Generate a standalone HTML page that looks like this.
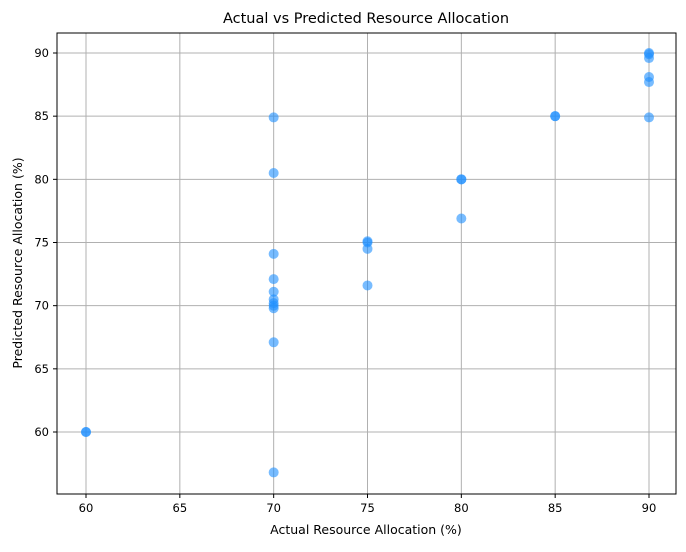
<!DOCTYPE html>
<html><head><meta charset="utf-8"><style>
body{margin:0;background:#fff;font-family:"Liberation Sans","DejaVu Sans",sans-serif}
svg text{font-family:"DejaVu Sans","Liberation Sans",sans-serif;fill:#000}
</style></head><body>
<svg id="chart" width="686" height="547" xmlns="http://www.w3.org/2000/svg">
<rect width="686" height="547" fill="#fff"/>
<text x="366" y="23" text-anchor="middle" font-size="14.5">Actual vs Predicted Resource Allocation</text>
<g id="grid"></g>
<g id="pts"></g>
<rect x="57" y="33" width="619" height="461" fill="none" stroke="#000" stroke-width="1"/>
<g id="ticks"></g>
<text x="366" y="534" text-anchor="middle" font-size="12.5">Actual Resource Allocation (%)</text>
<text transform="translate(22,263) rotate(-90)" text-anchor="middle" font-size="12.5">Predicted Resource Allocation (%)</text>
</svg>
<script>
const xTicks=[60,65,70,75,80,85,90];
const yTicks=[60,65,70,75,80,85,90];
const actual=[60,60,70,70,70,70,70,70,70,70,70,70,70,75,75,75,75,80,80,80,85,85,90,90,90,90,90,90];
const predicted=[60,60,84.9,80.5,74.1,72.1,71.1,70.5,70.2,70,69.8,67.1,56.8,75.1,75,74.5,71.6,80,80,76.9,85,85,90,89.9,89.6,88.1,87.7,84.9];
function sx(v){return 86+(v-60)*(649-86)/30;}
function sy(v){return 432-(v-60)*(432-53)/30;}
const NS='http://www.w3.org/2000/svg';
const grid=document.getElementById('grid'),ticks=document.getElementById('ticks'),pts=document.getElementById('pts');
function mk(tag,at,parent){const e=document.createElementNS(NS,tag);for(const k in at)e.setAttribute(k,at[k]);parent.appendChild(e);return e;}
xTicks.forEach(t=>{const x=sx(t);
 const g=mk('line',{x1:x,x2:x,y1:33,y2:494,stroke:'#b0b0b0','stroke-width':1},grid);
 
 
 mk('line',{x1:x,x2:x,y1:494,y2:498,stroke:'#000'},ticks);
 const l=mk('text',{x:x,y:512,'text-anchor':'middle','font-size':'11.5'},ticks);l.textContent=t;
 
 
});
yTicks.forEach(t=>{const y=sy(t);
 const g=mk('line',{x1:57,x2:676,y1:y,y2:y,stroke:'#b0b0b0','stroke-width':1},grid);
 
 
 mk('line',{x1:53,x2:57,y1:y,y2:y,stroke:'#000'},ticks);
 const l=mk('text',{x:49,y:y+4,'text-anchor':'end','font-size':'11.5'},ticks);l.textContent=t;
 
 
});
actual.forEach((a,i)=>{
 const c=mk('circle',{cx:sx(a),cy:sy(predicted[i]),r:5,fill:'#1e90ff','fill-opacity':0.6},pts);
 
 
});
</script>
</body></html>
